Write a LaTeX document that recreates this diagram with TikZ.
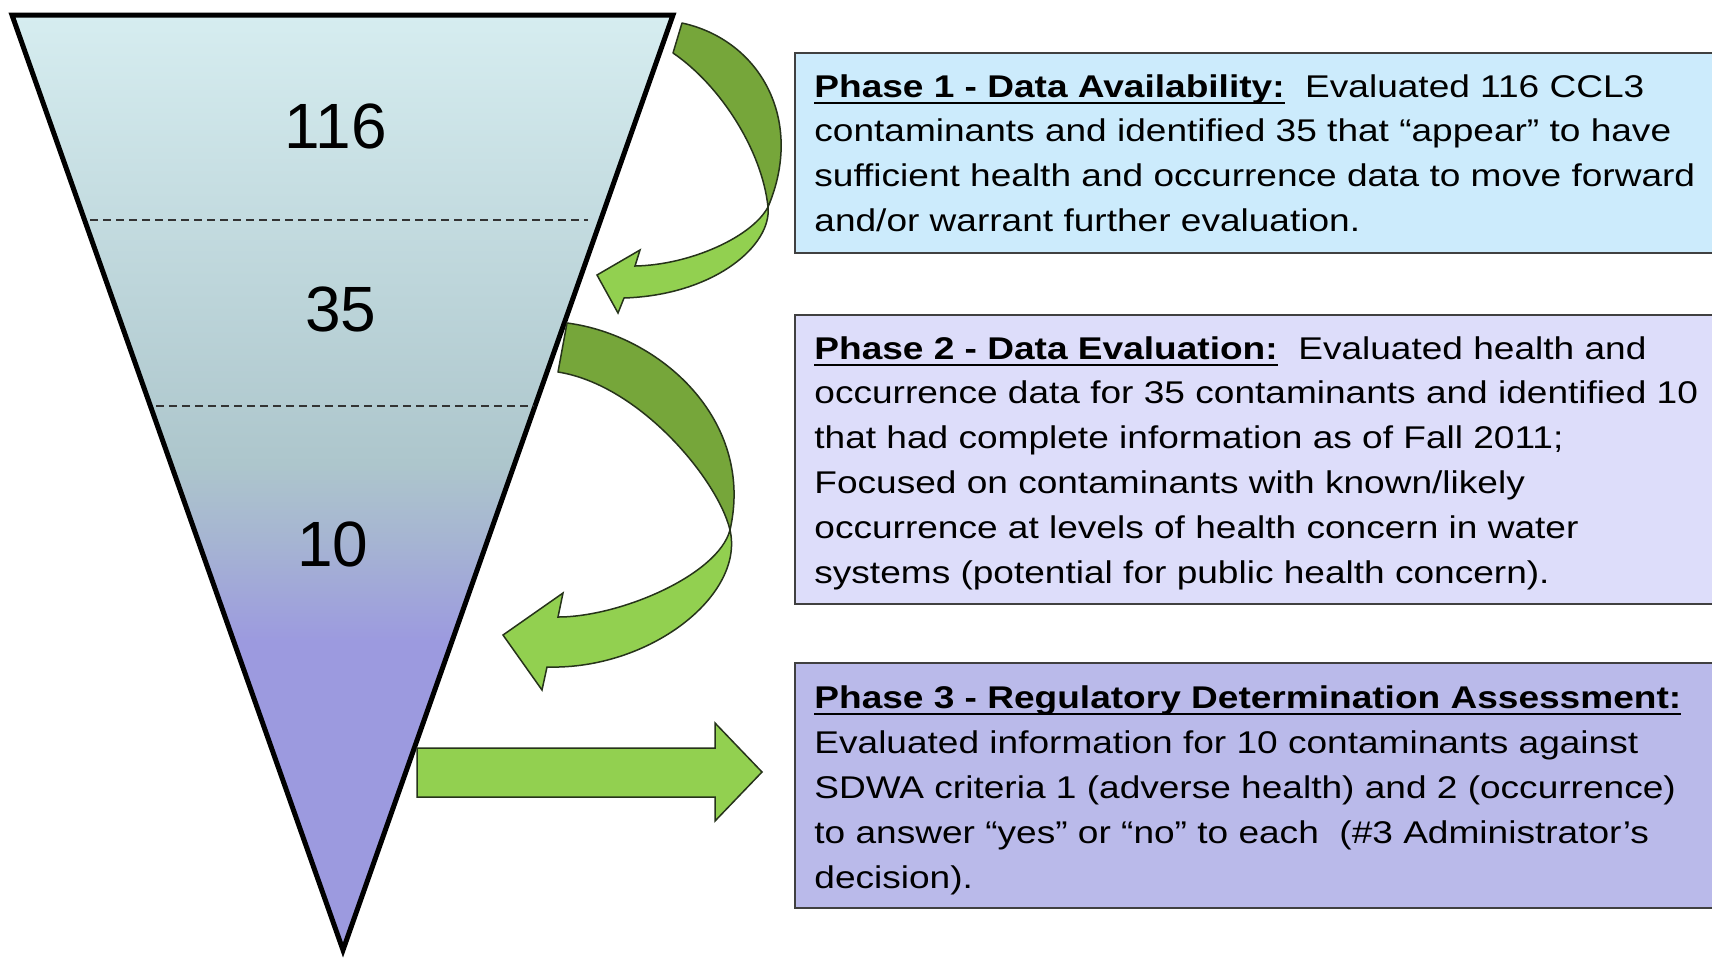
\documentclass[tikz,border=0pt]{standalone}
\usepackage{fontspec}
\setmainfont{Liberation Sans}[FakeStretch=1.18]
\newfontfamily\numfont{Liberation Sans}
\definecolor{fTop}{HTML}{D6EDF0}
\definecolor{fMid}{HTML}{ADC6CC}
\definecolor{fMix}{HTML}{A6B5D2}
\definecolor{fBot}{HTML}{9C9ADF}
\definecolor{boxA}{HTML}{CCEBFC}
\definecolor{boxB}{HTML}{DDDDFA}
\definecolor{boxC}{HTML}{BABAEA}
\definecolor{boxgray}{HTML}{404040}
\definecolor{dashgray}{HTML}{333333}
\definecolor{gDark}{HTML}{76A63A}
\definecolor{gLight}{HTML}{92D050}
\definecolor{gLine}{HTML}{26331A}
\pgfdeclareverticalshading{funnelshade}{100bp}{color(0bp)=(fBot); color(25bp)=(fBot); color(41.5bp)=(fBot); color(47bp)=(fMix); color(51bp)=(fMid); color(75bp)=(fTop); color(100bp)=(fTop)}
\newcommand\boxfont{\fontsize{15.7}{22.4}\selectfont}
\newcommand\phul[1]{\setbox0\hbox{#1}\rlap{\rule[-3.5pt]{\wd0}{1pt}}\box0}
\begin{document}
\begin{tikzpicture}[x=0.5pt,y=-0.5pt,
  phasebox/.style={draw=boxgray, line width=1pt},
  txt/.style={anchor=base west, inner sep=0pt, font=\boxfont},
  num/.style={anchor=base, inner sep=0pt, font=\numfont\fontsize{32}{38}\selectfont},
  sepline/.style={draw=dashgray, line width=0.9pt, dash pattern=on 4pt off 2.5pt},
  darkpart/.style={fill=gDark, draw=gLine, line width=0.75pt, line join=round},
  lightpart/.style={fill=gLight, draw=gLine, line width=0.75pt, line join=miter},
]
\useasboundingbox (0,0) rectangle (1712,960);
\clip (0,0) rectangle (1712,960);
\fill[white] (0,0) rectangle (1712,960);

% phase boxes
\draw[phasebox, fill=boxA] (795,53) rectangle (1740,253);
\draw[phasebox, fill=boxB] (795,315) rectangle (1740,604);
\draw[phasebox, fill=boxC] (795,663) rectangle (1740,908);

% funnel
\shade[shading=funnelshade] (12,15) -- (673,15) -- (343,950) -- cycle;
\draw[line width=2.5pt, line join=miter] (12,15) -- (673,15) -- (343,950) -- cycle;
\coordinate (d1a) at (90,220);
\coordinate (d1b) at (588,220);
\coordinate (d2a) at (156,406);
\coordinate (d2b) at (534,406);
\draw[sepline] (d1a) -- (d1b);
\draw[sepline] (d2a) -- (d2b);
\node[num] (n116) at (336,148) {116};
\node[num] (n35) at (341,331) {35};
\node[num] (n10) at (333,566) {10};

% curved arrow 1
\path[darkpart] (682,23) .. controls (760,40) and (805,120) .. (768,207)
  .. controls (762,150) and (720,85) .. (673,53) -- cycle;
\path[lightpart] (768,207) .. controls (772,245) and (715,295) .. (624,298)
  -- (618,313) -- (597,275) -- (640,250) -- (635,266)
  .. controls (690,265) and (752,237) .. (768,207) -- cycle;

% curved arrow 2
\path[darkpart] (567,323) .. controls (660,335) and (755,420) .. (730,530)
  .. controls (718,480) and (640,385) .. (558,372) -- cycle;
\path[lightpart] (730,530) .. controls (745,595) and (650,670) .. (547,667)
  -- (542,690) -- (503,635) -- (563,593) -- (558,617)
  .. controls (620,617) and (718,575) .. (730,530) -- cycle;

% straight arrow
\path[lightpart] (417,748) -- (715,748) -- (715,723) -- (762,772) -- (715,821)
  -- (715,797) -- (417,797) -- cycle;

% box texts
\node[txt] (a1) at (814,97) {\phul{\bfseries Phase 1 - Data Availability:}\ \ Evaluated 116 CCL3};
\node[txt] (a2) at (814,141.8) {contaminants and identified 35 that “appear” to have};
\node[txt] (a3) at (814,186.6) {sufficient health and occurrence data to move forward};
\node[txt] (a4) at (814,231.4) {and/or warrant further evaluation.};

\node[txt] (b1) at (814,359) {\phul{\bfseries Phase 2 - Data Evaluation:}\ \ Evaluated health and};
\node[txt] (b2) at (814,403.8) {occurrence data for 35 contaminants and identified 10};
\node[txt] (b3) at (814,448.6) {that had complete information as of Fall 2011;};
\node[txt] (b4) at (814,493.4) {Focused on contaminants with known/likely};
\node[txt] (b5) at (814,538.2) {occurrence at levels of health concern in water};
\node[txt] (b6) at (814,583) {systems (potential for public health concern).};

\node[txt] (c1) at (814,708) {\phul{\bfseries Phase 3 - Regulatory Determination Assessment:}};
\node[txt] (c2) at (814,753) {Evaluated information for 10 contaminants against};
\node[txt] (c3) at (814,798) {SDWA criteria 1 (adverse health) and 2 (occurrence)};
\node[txt] (c4) at (814,843) {to answer “yes” or “no” to each\ \ (\#3 Administrator’s};
\node[txt] (c5) at (814,888) {decision).};
\end{tikzpicture}
\end{document}
